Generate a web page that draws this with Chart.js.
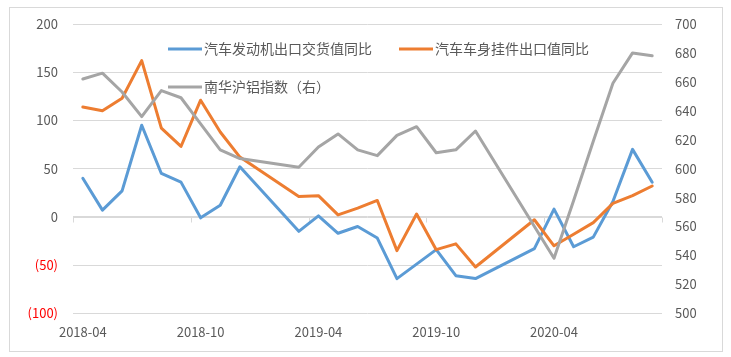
<!DOCTYPE html>
<html>
<head>
<meta charset="utf-8">
<script src="https://cdn.jsdelivr.net/npm/chart.js@4.4.0/dist/chart.umd.min.js"></script>
<style>
  html, body { margin: 0; padding: 0; background: #ffffff; }
  #wrap { position: relative; width: 731px; height: 357px; }
</style>
</head>
<body>
<div id="wrap"><canvas id="c" width="731" height="357"></canvas></div>
<script>
const categories = [
  '2018-04','2018-05','2018-06','2018-07','2018-08','2018-09','2018-10','2018-11','2018-12',
  '2019-01','2019-02','2019-03','2019-04','2019-05','2019-06','2019-07','2019-08','2019-09',
  '2019-10','2019-11','2019-12','2020-01','2020-02','2020-03','2020-04','2020-05','2020-06',
  '2020-07','2020-08','2020-09'
];
const seriesNames = ['汽车发动机出口交货值同比', '汽车车身挂件出口值同比', '南华沪铝指数（右）'];
const engineYoY = [40, 7, 27, 95, 45, 36, -1, 12, 52, null, null, -15, 1, -17, -10, -22, -64, -49,
  -34, -61, -64, null, null, -33, 8, -31, -21, 16, 70, 36];
const bodyPartsYoY = [114, 110, 123, 162, 92, 73, 121, 88, 62, null, null, 21, 22, 2, 9, 17, -35, 3,
  -34, -28, -52, null, null, -3, -30, -18, -6, 14, 22, 32];
const aluminumIndex = [662, 666, 653, 636, 654, 649, 631, 613, 607, null, null, 601, 615, 624, 613, 609, 623, 629,
  611, 613, 626, null, null, null, 538, 578, 619, 659, 680, 678];
const leftTicks = { min: -100, max: 200, step: 50 };
const rightTicks = { min: 500, max: 700, step: 20 };
const xLabelEvery = 6;

const colors = ['#5b9bd5', '#ed7d31', '#a5a5a5'];
const textColor = '#595959';
const gridColor = '#d9d9d9';
const fontFamily = "'Noto Sans CJK SC', 'Noto Sans', sans-serif";

const decor = {
  id: 'decor',
  beforeDraw(chart) {
    const ctx = chart.ctx;
    ctx.save();
    ctx.fillStyle = '#ffffff';
    ctx.fillRect(0, 0, chart.width, chart.height);
    ctx.strokeStyle = gridColor;
    ctx.lineWidth = 1;
    ctx.strokeRect(9.5, 7.5, 713, 344);
    ctx.restore();
  },
  beforeDatasetsDraw(chart) {
    const ctx = chart.ctx;
    const x = chart.scales.x, y = chart.scales.y;
    const y0 = Math.round(y.getPixelForValue(0)) + 0.5;
    ctx.save();
    ctx.strokeStyle = gridColor;
    ctx.lineWidth = 1;
    ctx.beginPath();
    ctx.moveTo(chart.chartArea.left, y0);
    ctx.lineTo(chart.chartArea.right, y0);
    const half = (x.getPixelForValue(1) - x.getPixelForValue(0)) / 2;
    for (let i = 0; i <= categories.length; i += xLabelEvery) {
      const px = Math.round(x.getPixelForValue(i) - half) + 0.5;
      ctx.moveTo(px, y0);
      ctx.lineTo(px, y0 + 5);
    }
    ctx.stroke();
    ctx.restore();
  },
  afterDatasetsDraw(chart) {
    const ctx = chart.ctx;
    const items = [
      { idx: 0, x: 168, y: 49 },
      { idx: 1, x: 399, y: 49 },
      { idx: 2, x: 168, y: 87 }
    ];
    ctx.save();
    ctx.font = '14px ' + fontFamily;
    ctx.textBaseline = 'middle';
    ctx.textAlign = 'left';
    items.forEach(it => {
      ctx.strokeStyle = colors[it.idx];
      ctx.lineWidth = 3;
      ctx.beginPath();
      ctx.moveTo(it.x, it.y);
      ctx.lineTo(it.x + 34, it.y);
      ctx.stroke();
      ctx.fillStyle = textColor;
      ctx.fillText(seriesNames[it.idx], it.x + 36, it.y);
    });
    ctx.restore();
  }
};

const mk = (i, data, axis, order) => ({
  label: seriesNames[i], data, yAxisID: axis, order,
  borderColor: colors[i], backgroundColor: colors[i],
  borderWidth: 3, pointRadius: 0, tension: 0, spanGaps: true,
  borderCapStyle: 'round', borderJoinStyle: 'round'
});

new Chart(document.getElementById('c'), {
  type: 'line',
  data: {
    labels: categories,
    datasets: [
      mk(0, engineYoY, 'y', 2),
      mk(1, bodyPartsYoY, 'y', 1),
      mk(2, aluminumIndex, 'y1', 0)
    ]
  },
  options: {
    responsive: false,
    animation: false,
    devicePixelRatio: 1,
    layout: { padding: { left: 10, right: 8, top: 24, bottom: 0 } },
    plugins: { legend: { display: false }, tooltip: { enabled: false } },
    scales: {
      x: {
        offset: true,
        grid: { display: false, drawTicks: false, offset: true },
        border: { display: false },
        ticks: {
          autoSkip: false, maxRotation: 0, padding: 11,
          color: textColor, font: { family: fontFamily, size: 13 },
          callback: (v, i) => (i % xLabelEvery === 0 ? categories[i] : '')
        },
        afterFit: s => { s.height = 43.7; }
      },
      y: {
        position: 'left',
        min: leftTicks.min, max: leftTicks.max,
        grid: { color: gridColor, lineWidth: 1, drawTicks: false },
        border: { display: false },
        ticks: {
          stepSize: leftTicks.step, padding: 15,
          color: c => (c.tick.value < 0 ? '#ff0000' : textColor),
          font: { family: fontFamily, size: 13 },
          callback: v => (v < 0 ? '(' + (-v) + ')' : String(v))
        },
        afterFit: s => { s.width = 63; }
      },
      y1: {
        position: 'right',
        min: rightTicks.min, max: rightTicks.max,
        grid: { display: false, drawTicks: false },
        border: { display: false },
        ticks: {
          stepSize: rightTicks.step, padding: 13,
          color: textColor, font: { family: fontFamily, size: 13 }
        },
        afterFit: s => { s.width = 61; }
      }
    }
  },
  plugins: [decor]
});
</script>
</body>
</html>
